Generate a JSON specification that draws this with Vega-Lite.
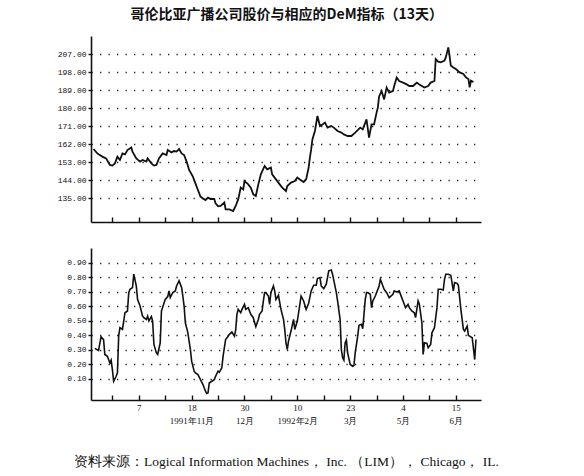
{
  "$schema": "https://vega.github.io/schema/vega-lite/v6.json",
  "background": "white",
  "padding": {"left": 57, "top": 8, "right": 10, "bottom": 5},
  "title": {
    "text": "哥伦比亚广播公司股价与相应的DeM指标（13天）",
    "font": "Noto Sans CJK SC",
    "fontSize": 14,
    "fontWeight": "bold",
    "color": "#111",
    "anchor": "middle",
    "dx": 9,
    "offset": 14
  },
  "datasets": {
    "price": [
      {"date": "1991-09-01", "price": 159.5}, {"date": "1991-09-04", "price": 157.3}, {"date": "1991-09-08", "price": 155.7},
      {"date": "1991-09-11", "price": 154.8}, {"date": "1991-09-14", "price": 151.5}, {"date": "1991-09-16", "price": 151.2},
      {"date": "1991-09-18", "price": 152.3}, {"date": "1991-09-20", "price": 155.7}, {"date": "1991-09-22", "price": 154},
      {"date": "1991-09-24", "price": 157.3}, {"date": "1991-09-26", "price": 156.8}, {"date": "1991-09-28", "price": 159},
      {"date": "1991-10-01", "price": 160.3}, {"date": "1991-10-02", "price": 158.2}, {"date": "1991-10-05", "price": 154.8},
      {"date": "1991-10-08", "price": 153.2}, {"date": "1991-10-10", "price": 154}, {"date": "1991-10-13", "price": 153.2},
      {"date": "1991-10-14", "price": 154.8}, {"date": "1991-10-17", "price": 152.3}, {"date": "1991-10-19", "price": 151.2},
      {"date": "1991-10-21", "price": 151.5}, {"date": "1991-10-23", "price": 154.8}, {"date": "1991-10-26", "price": 157.3},
      {"date": "1991-10-29", "price": 156.5}, {"date": "1991-10-30", "price": 159}, {"date": "1991-11-02", "price": 157.8},
      {"date": "1991-11-04", "price": 158.5}, {"date": "1991-11-06", "price": 158.2}, {"date": "1991-11-08", "price": 159.5},
      {"date": "1991-11-10", "price": 157.3}, {"date": "1991-11-12", "price": 156.5}, {"date": "1991-11-14", "price": 153.2},
      {"date": "1991-11-16", "price": 149}, {"date": "1991-11-19", "price": 145.7}, {"date": "1991-11-21", "price": 142.3},
      {"date": "1991-11-23", "price": 139}, {"date": "1991-11-25", "price": 135.7}, {"date": "1991-11-27", "price": 134.8},
      {"date": "1991-11-29", "price": 134}, {"date": "1991-12-01", "price": 135.2}, {"date": "1991-12-03", "price": 134.5},
      {"date": "1991-12-06", "price": 134.5}, {"date": "1991-12-07", "price": 132.3}, {"date": "1991-12-09", "price": 130.8},
      {"date": "1991-12-11", "price": 131}, {"date": "1991-12-14", "price": 132.7}, {"date": "1991-12-15", "price": 129.3},
      {"date": "1991-12-18", "price": 129.3}, {"date": "1991-12-21", "price": 128.5}, {"date": "1991-12-23", "price": 131},
      {"date": "1991-12-25", "price": 134.3}, {"date": "1991-12-27", "price": 140.2}, {"date": "1991-12-29", "price": 139.3},
      {"date": "1991-12-30", "price": 143.5}, {"date": "1992-01-02", "price": 141.8}, {"date": "1992-01-04", "price": 140.2},
      {"date": "1992-01-06", "price": 136.8}, {"date": "1992-01-08", "price": 136}, {"date": "1992-01-10", "price": 141.8},
      {"date": "1992-01-12", "price": 146.8}, {"date": "1992-01-15", "price": 151}, {"date": "1992-01-17", "price": 149.3},
      {"date": "1992-01-20", "price": 150.2}, {"date": "1992-01-21", "price": 146.8}, {"date": "1992-01-24", "price": 144.3},
      {"date": "1992-01-27", "price": 141.8}, {"date": "1992-01-29", "price": 140.2}, {"date": "1992-02-01", "price": 138.5},
      {"date": "1992-02-02", "price": 141}, {"date": "1992-02-05", "price": 142.7}, {"date": "1992-02-08", "price": 143.5},
      {"date": "1992-02-10", "price": 145.2}, {"date": "1992-02-12", "price": 144.3}, {"date": "1992-02-15", "price": 143},
      {"date": "1992-02-17", "price": 144.3}, {"date": "1992-02-19", "price": 150.2}, {"date": "1992-02-20", "price": 155.2},
      {"date": "1992-02-21", "price": 159.3}, {"date": "1992-02-22", "price": 164.3}, {"date": "1992-02-24", "price": 168.5},
      {"date": "1992-02-26", "price": 176}, {"date": "1992-02-28", "price": 171}, {"date": "1992-03-01", "price": 171.8},
      {"date": "1992-03-03", "price": 172.7}, {"date": "1992-03-05", "price": 170.2}, {"date": "1992-03-08", "price": 171},
      {"date": "1992-03-10", "price": 170.2}, {"date": "1992-03-13", "price": 168.5}, {"date": "1992-03-16", "price": 167.7},
      {"date": "1992-03-18", "price": 166.8}, {"date": "1992-03-21", "price": 166}, {"date": "1992-03-24", "price": 166},
      {"date": "1992-03-27", "price": 167.7}, {"date": "1992-03-31", "price": 170.2}, {"date": "1992-04-02", "price": 169.3},
      {"date": "1992-04-05", "price": 174.3}, {"date": "1992-04-07", "price": 165.2}, {"date": "1992-04-09", "price": 171.8},
      {"date": "1992-04-11", "price": 171.8}, {"date": "1992-04-13", "price": 177.7}, {"date": "1992-04-14", "price": 180.2},
      {"date": "1992-04-15", "price": 185.8}, {"date": "1992-04-17", "price": 188.5}, {"date": "1992-04-19", "price": 184.3},
      {"date": "1992-04-21", "price": 190.2}, {"date": "1992-04-23", "price": 187.7}, {"date": "1992-04-26", "price": 188.5},
      {"date": "1992-04-27", "price": 191}, {"date": "1992-04-29", "price": 195.2}, {"date": "1992-05-01", "price": 193.5},
      {"date": "1992-05-04", "price": 192.7}, {"date": "1992-05-07", "price": 191.8}, {"date": "1992-05-09", "price": 191},
      {"date": "1992-05-12", "price": 191}, {"date": "1992-05-15", "price": 192.7}, {"date": "1992-05-17", "price": 191.8},
      {"date": "1992-05-19", "price": 191}, {"date": "1992-05-21", "price": 190.2}, {"date": "1992-05-24", "price": 191},
      {"date": "1992-05-26", "price": 192.7}, {"date": "1992-05-29", "price": 193.5}, {"date": "1992-05-30", "price": 204.5},
      {"date": "1992-06-01", "price": 203.2}, {"date": "1992-06-03", "price": 202.8}, {"date": "1992-06-06", "price": 203.7},
      {"date": "1992-06-07", "price": 205.3}, {"date": "1992-06-09", "price": 210.3}, {"date": "1992-06-10", "price": 206.2},
      {"date": "1992-06-11", "price": 201.2}, {"date": "1992-06-13", "price": 200.3}, {"date": "1992-06-15", "price": 199.5},
      {"date": "1992-06-18", "price": 197.8}, {"date": "1992-06-21", "price": 197}, {"date": "1992-06-23", "price": 195.3},
      {"date": "1992-06-25", "price": 194.5}, {"date": "1992-06-26", "price": 190.3}, {"date": "1992-06-27", "price": 193.7},
      {"date": "1992-06-29", "price": 193}
    ],
    "dem": [
      {"date": "1991-09-02", "dem": 0.31}, {"date": "1991-09-05", "dem": 0.295}, {"date": "1991-09-07", "dem": 0.39},
      {"date": "1991-09-09", "dem": 0.37}, {"date": "1991-09-10", "dem": 0.268}, {"date": "1991-09-12", "dem": 0.256},
      {"date": "1991-09-14", "dem": 0.21}, {"date": "1991-09-15", "dem": 0.229}, {"date": "1991-09-16", "dem": 0.164},
      {"date": "1991-09-17", "dem": 0.084}, {"date": "1991-09-19", "dem": 0.118}, {"date": "1991-09-20", "dem": 0.141},
      {"date": "1991-09-21", "dem": 0.394}, {"date": "1991-09-22", "dem": 0.452}, {"date": "1991-09-24", "dem": 0.44},
      {"date": "1991-09-25", "dem": 0.498}, {"date": "1991-09-26", "dem": 0.555}, {"date": "1991-09-28", "dem": 0.567},
      {"date": "1991-09-29", "dem": 0.693}, {"date": "1991-09-30", "dem": 0.716}, {"date": "1991-10-02", "dem": 0.728},
      {"date": "1991-10-03", "dem": 0.82}, {"date": "1991-10-05", "dem": 0.739}, {"date": "1991-10-06", "dem": 0.647},
      {"date": "1991-10-08", "dem": 0.601}, {"date": "1991-10-10", "dem": 0.532}, {"date": "1991-10-11", "dem": 0.521},
      {"date": "1991-10-13", "dem": 0.509}, {"date": "1991-10-14", "dem": 0.532}, {"date": "1991-10-15", "dem": 0.498},
      {"date": "1991-10-17", "dem": 0.528}, {"date": "1991-10-18", "dem": 0.498}, {"date": "1991-10-19", "dem": 0.337},
      {"date": "1991-10-21", "dem": 0.279}, {"date": "1991-10-22", "dem": 0.268}, {"date": "1991-10-24", "dem": 0.348},
      {"date": "1991-10-25", "dem": 0.567}, {"date": "1991-10-28", "dem": 0.647}, {"date": "1991-10-30", "dem": 0.666},
      {"date": "1991-10-31", "dem": 0.705}, {"date": "1991-11-01", "dem": 0.659}, {"date": "1991-11-03", "dem": 0.693},
      {"date": "1991-11-05", "dem": 0.705}, {"date": "1991-11-06", "dem": 0.739}, {"date": "1991-11-08", "dem": 0.774},
      {"date": "1991-11-10", "dem": 0.728}, {"date": "1991-11-11", "dem": 0.67}, {"date": "1991-11-12", "dem": 0.601},
      {"date": "1991-11-13", "dem": 0.486}, {"date": "1991-11-15", "dem": 0.417}, {"date": "1991-11-17", "dem": 0.302},
      {"date": "1991-11-18", "dem": 0.222}, {"date": "1991-11-20", "dem": 0.153}, {"date": "1991-11-21", "dem": 0.141},
      {"date": "1991-11-23", "dem": 0.13}, {"date": "1991-11-25", "dem": 0.095}, {"date": "1991-11-27", "dem": 0.061},
      {"date": "1991-11-29", "dem": 0.015}, {"date": "1991-11-30", "dem": 0.0}, {"date": "1991-12-01", "dem": 0.003},
      {"date": "1991-12-02", "dem": 0.072}, {"date": "1991-12-04", "dem": 0.084}, {"date": "1991-12-06", "dem": 0.095},
      {"date": "1991-12-07", "dem": 0.118}, {"date": "1991-12-09", "dem": 0.153}, {"date": "1991-12-10", "dem": 0.146},
      {"date": "1991-12-12", "dem": 0.176}, {"date": "1991-12-13", "dem": 0.256}, {"date": "1991-12-15", "dem": 0.371},
      {"date": "1991-12-17", "dem": 0.394}, {"date": "1991-12-18", "dem": 0.406}, {"date": "1991-12-20", "dem": 0.422},
      {"date": "1991-12-22", "dem": 0.394}, {"date": "1991-12-23", "dem": 0.436}, {"date": "1991-12-24", "dem": 0.544},
      {"date": "1991-12-25", "dem": 0.578}, {"date": "1991-12-27", "dem": 0.555}, {"date": "1991-12-28", "dem": 0.578},
      {"date": "1991-12-30", "dem": 0.613}, {"date": "1991-12-31", "dem": 0.578}, {"date": "1992-01-02", "dem": 0.59},
      {"date": "1992-01-04", "dem": 0.544}, {"date": "1992-01-06", "dem": 0.521}, {"date": "1992-01-08", "dem": 0.459},
      {"date": "1992-01-10", "dem": 0.509}, {"date": "1992-01-11", "dem": 0.544}, {"date": "1992-01-13", "dem": 0.567},
      {"date": "1992-01-14", "dem": 0.636}, {"date": "1992-01-15", "dem": 0.693}, {"date": "1992-01-16", "dem": 0.693},
      {"date": "1992-01-18", "dem": 0.67}, {"date": "1992-01-19", "dem": 0.613}, {"date": "1992-01-20", "dem": 0.693},
      {"date": "1992-01-22", "dem": 0.739}, {"date": "1992-01-23", "dem": 0.705}, {"date": "1992-01-24", "dem": 0.647},
      {"date": "1992-01-26", "dem": 0.675}, {"date": "1992-01-28", "dem": 0.578}, {"date": "1992-01-30", "dem": 0.509},
      {"date": "1992-01-31", "dem": 0.44}, {"date": "1992-02-01", "dem": 0.348}, {"date": "1992-02-02", "dem": 0.302},
      {"date": "1992-02-03", "dem": 0.36}, {"date": "1992-02-05", "dem": 0.429}, {"date": "1992-02-07", "dem": 0.509},
      {"date": "1992-02-08", "dem": 0.44}, {"date": "1992-02-10", "dem": 0.498}, {"date": "1992-02-12", "dem": 0.613},
      {"date": "1992-02-13", "dem": 0.67}, {"date": "1992-02-15", "dem": 0.636}, {"date": "1992-02-17", "dem": 0.578},
      {"date": "1992-02-19", "dem": 0.62}, {"date": "1992-02-21", "dem": 0.705}, {"date": "1992-02-23", "dem": 0.744},
      {"date": "1992-02-25", "dem": 0.744}, {"date": "1992-02-26", "dem": 0.79}, {"date": "1992-02-28", "dem": 0.797},
      {"date": "1992-02-29", "dem": 0.739}, {"date": "1992-03-02", "dem": 0.721}, {"date": "1992-03-04", "dem": 0.751},
      {"date": "1992-03-06", "dem": 0.843}, {"date": "1992-03-08", "dem": 0.849}, {"date": "1992-03-09", "dem": 0.82},
      {"date": "1992-03-12", "dem": 0.693}, {"date": "1992-03-13", "dem": 0.636}, {"date": "1992-03-15", "dem": 0.509},
      {"date": "1992-03-16", "dem": 0.302}, {"date": "1992-03-17", "dem": 0.245}, {"date": "1992-03-18", "dem": 0.229},
      {"date": "1992-03-19", "dem": 0.348}, {"date": "1992-03-20", "dem": 0.367}, {"date": "1992-03-21", "dem": 0.279},
      {"date": "1992-03-23", "dem": 0.199}, {"date": "1992-03-25", "dem": 0.187}, {"date": "1992-03-26", "dem": 0.192},
      {"date": "1992-03-27", "dem": 0.279}, {"date": "1992-03-29", "dem": 0.394}, {"date": "1992-03-30", "dem": 0.468},
      {"date": "1992-04-01", "dem": 0.475}, {"date": "1992-04-02", "dem": 0.445}, {"date": "1992-04-04", "dem": 0.647},
      {"date": "1992-04-05", "dem": 0.693}, {"date": "1992-04-06", "dem": 0.693}, {"date": "1992-04-08", "dem": 0.682},
      {"date": "1992-04-09", "dem": 0.59}, {"date": "1992-04-10", "dem": 0.636}, {"date": "1992-04-12", "dem": 0.67},
      {"date": "1992-04-13", "dem": 0.693}, {"date": "1992-04-15", "dem": 0.739}, {"date": "1992-04-16", "dem": 0.785},
      {"date": "1992-04-18", "dem": 0.739}, {"date": "1992-04-19", "dem": 0.716}, {"date": "1992-04-21", "dem": 0.693},
      {"date": "1992-04-23", "dem": 0.659}, {"date": "1992-04-26", "dem": 0.682}, {"date": "1992-04-27", "dem": 0.705},
      {"date": "1992-04-29", "dem": 0.698}, {"date": "1992-05-01", "dem": 0.705}, {"date": "1992-05-03", "dem": 0.659},
      {"date": "1992-05-04", "dem": 0.636}, {"date": "1992-05-06", "dem": 0.59}, {"date": "1992-05-08", "dem": 0.613},
      {"date": "1992-05-09", "dem": 0.59}, {"date": "1992-05-11", "dem": 0.567}, {"date": "1992-05-13", "dem": 0.555},
      {"date": "1992-05-14", "dem": 0.521}, {"date": "1992-05-16", "dem": 0.636}, {"date": "1992-05-17", "dem": 0.613},
      {"date": "1992-05-19", "dem": 0.486}, {"date": "1992-05-20", "dem": 0.268}, {"date": "1992-05-21", "dem": 0.348},
      {"date": "1992-05-23", "dem": 0.344}, {"date": "1992-05-24", "dem": 0.314}, {"date": "1992-05-26", "dem": 0.337},
      {"date": "1992-05-27", "dem": 0.417}, {"date": "1992-05-29", "dem": 0.452}, {"date": "1992-05-31", "dem": 0.59},
      {"date": "1992-06-01", "dem": 0.716}, {"date": "1992-06-03", "dem": 0.716}, {"date": "1992-06-05", "dem": 0.711},
      {"date": "1992-06-06", "dem": 0.785}, {"date": "1992-06-07", "dem": 0.82}, {"date": "1992-06-09", "dem": 0.82},
      {"date": "1992-06-11", "dem": 0.813}, {"date": "1992-06-13", "dem": 0.705}, {"date": "1992-06-14", "dem": 0.762},
      {"date": "1992-06-16", "dem": 0.757}, {"date": "1992-06-17", "dem": 0.744}, {"date": "1992-06-19", "dem": 0.578},
      {"date": "1992-06-21", "dem": 0.44}, {"date": "1992-06-22", "dem": 0.429}, {"date": "1992-06-24", "dem": 0.463},
      {"date": "1992-06-25", "dem": 0.399}, {"date": "1992-06-26", "dem": 0.394}, {"date": "1992-06-28", "dem": 0.383},
      {"date": "1992-06-30", "dem": 0.233}, {"date": "1992-07-01", "dem": 0.371}
    ]
  },
  "spacing": 25,
  "vconcat": [
    {
      "width": 390,
      "height": 186,
      "data": {"name": "price"},
      "mark": {"type": "line", "color": "#111", "strokeWidth": 1.8},
      "encoding": {
        "x": {
          "field": "date",
          "type": "temporal",
          "scale": {
            "type": "utc",
            "domain": [
              {"year": 1991, "month": 8, "date": 30, "utc": true},
              {"year": 1992, "month": 7, "date": 5, "utc": true}
            ]
          },
          "axis": {
            "title": null,
            "labels": false,
            "grid": false,
            "tickSize": -5,
            "values": [
              {"year": 1991, "month": 9, "date": 16, "utc": true}, {"year": 1991, "month": 10, "date": 7, "utc": true},
              {"year": 1991, "month": 10, "date": 28, "utc": true}, {"year": 1991, "month": 11, "date": 18, "utc": true},
              {"year": 1991, "month": 12, "date": 9, "utc": true}, {"year": 1991, "month": 12, "date": 30, "utc": true},
              {"year": 1992, "month": 1, "date": 20, "utc": true}, {"year": 1992, "month": 2, "date": 10, "utc": true},
              {"year": 1992, "month": 3, "date": 2, "utc": true}, {"year": 1992, "month": 3, "date": 23, "utc": true},
              {"year": 1992, "month": 4, "date": 13, "utc": true}, {"year": 1992, "month": 5, "date": 4, "utc": true},
              {"year": 1992, "month": 5, "date": 25, "utc": true}, {"year": 1992, "month": 6, "date": 15, "utc": true}
            ]
          }
        },
        "y": {
          "field": "price",
          "type": "quantitative",
          "scale": {"domain": [123, 216], "nice": false, "zero": false},
          "axis": {
            "title": null,
            "format": ".2f",
            "values": [135, 144, 153, 162, 171, 180, 189, 198, 207]
          }
        }
      }
    },
    {
      "width": 390,
      "height": 152,
      "data": {"name": "dem"},
      "mark": {"type": "line", "color": "#111", "strokeWidth": 1.6},
      "encoding": {
        "x": {
          "field": "date",
          "type": "temporal",
          "scale": {
            "type": "utc",
            "domain": [
              {"year": 1991, "month": 8, "date": 30, "utc": true},
              {"year": 1992, "month": 7, "date": 5, "utc": true}
            ]
          },
          "axis": {
            "title": "资料来源：Logical Information Machines， Inc. （LIM）， Chicago， IL.",
            "titleFont": "Liberation Serif",
            "titleFontSize": 13.5,
            "titleFontWeight": "normal",
            "titleColor": "#111",
            "titlePadding": 29,
            "grid": false,
            "tickSize": -5,
            "labelFont": "Liberation Serif",
            "labelFontSize": 9,
            "labelLineHeight": 13,
            "labelPadding": 8,
            "labelOverlap": false,
            "labelFlush": false,
            "labelExpr": "indexof([7,18,30,10,23,4,15], utcdate(datum.value)) < 0 ? '' : ['' + utcdate(datum.value), utcmonth(datum.value) == 10 ? '1991年11月' : utcmonth(datum.value) == 1 ? '1992年2月' : utcmonth(datum.value) == 9 ? ' ' : (utcmonth(datum.value) + 1) + '月']",
            "values": [
              {"year": 1991, "month": 9, "date": 16, "utc": true}, {"year": 1991, "month": 10, "date": 7, "utc": true},
              {"year": 1991, "month": 10, "date": 28, "utc": true}, {"year": 1991, "month": 11, "date": 18, "utc": true},
              {"year": 1991, "month": 12, "date": 9, "utc": true}, {"year": 1991, "month": 12, "date": 30, "utc": true},
              {"year": 1992, "month": 1, "date": 20, "utc": true}, {"year": 1992, "month": 2, "date": 10, "utc": true},
              {"year": 1992, "month": 3, "date": 2, "utc": true}, {"year": 1992, "month": 3, "date": 23, "utc": true},
              {"year": 1992, "month": 4, "date": 13, "utc": true}, {"year": 1992, "month": 5, "date": 4, "utc": true},
              {"year": 1992, "month": 5, "date": 25, "utc": true}, {"year": 1992, "month": 6, "date": 15, "utc": true}
            ]
          }
        },
        "y": {
          "field": "dem",
          "type": "quantitative",
          "scale": {"domain": [-0.045, 1.0], "nice": false, "zero": false},
          "axis": {
            "title": null,
            "format": ".2f",
            "values": [0.1, 0.2, 0.3, 0.4, 0.5, 0.6, 0.7, 0.8, 0.9]
          }
        }
      }
    }
  ],
  "config": {
    "view": {"stroke": null},
    "axis": {
      "domainColor": "#111",
      "domainWidth": 1.6,
      "tickColor": "#111",
      "tickWidth": 1.4,
      "labelColor": "#111",
      "labelFont": "Liberation Mono",
      "labelFontSize": 8
    },
    "axisY": {
      "grid": true,
      "gridColor": "#222",
      "gridDash": [1.3, 7.2],
      "gridWidth": 1.3,
      "tickSize": 3,
      "labelPadding": 2
    }
  }
}
